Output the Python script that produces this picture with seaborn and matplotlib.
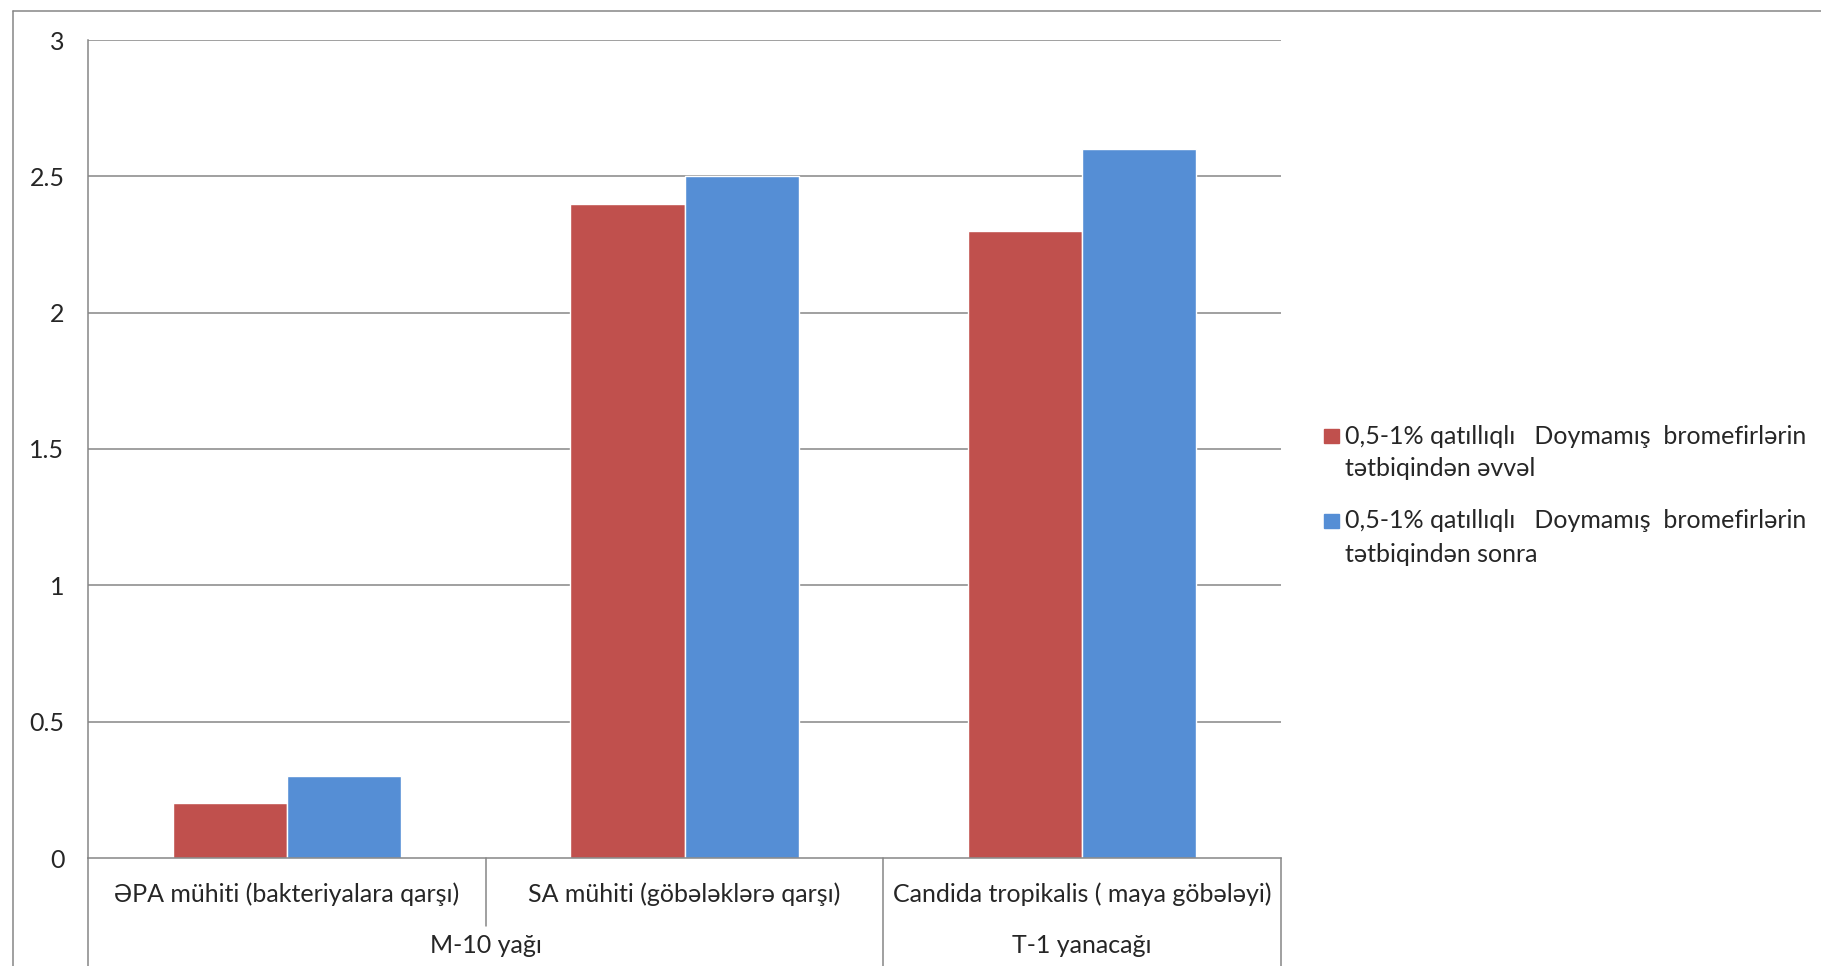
import seaborn as sns
import matplotlib.pyplot as plt
import pandas as pd
from matplotlib.lines import Line2D
from matplotlib.patches import Rectangle

# data
categories = ["ƏPA mühiti (bakteriyalara qarşı)", "SA mühiti (göbələklərə qarşı)",
              "Candida tropikalis ( maya göbələyi)"]
groups = ["M-10 yağı", "T-1 yanacağı"]
series = ["0,5-1% qatıllıqlı   Doymamış  bromefirlərin\ntətbiqindən əvvəl",
          "0,5-1% qatıllıqlı   Doymamış  bromefirlərin\ntətbiqindən sonra"]
before = [0.2, 2.4, 2.3]
after = [0.3, 2.5, 2.6]
colors = ["#C0504D", "#558ED5"]
yticks = [0, 0.5, 1, 1.5, 2, 2.5, 3]
ytick_labels = ["0", "0.5", "1", "1.5", "2", "2.5", "3"]

df = pd.DataFrame({
    "cat": categories * 2,
    "val": before + after,
    "series": [series[0]] * 3 + [series[1]] * 3,
})

sns.set_style("white")
plt.rcParams["font.family"] = ["Lato", "DejaVu Sans"]
grid_col = "#868686"
fs = 18

fig = plt.figure(figsize=(18.21, 9.66), dpi=100)
ax = fig.add_axes([88 / 1821, 108 / 966, 1193 / 1821, 818 / 966])

sns.barplot(data=df, x="cat", y="val", hue="series", order=categories,
            palette=colors, width=0.575, ax=ax, saturation=1, legend=False)

ax.set_xlim(-0.5, 2.5)
ax.set_ylim(0, 3)
ax.set_yticks(yticks)
ax.set_yticklabels(ytick_labels)
ax.set_xticks([])
ax.set_xlabel("")
ax.set_ylabel("")
ax.tick_params(axis="y", length=5, width=1.1, color=grid_col, pad=12, labelsize=fs)
for y in yticks[1:]:
    ax.axhline(y, color=grid_col, lw=1.1, zorder=0)
for s in ["top", "right"]:
    ax.spines[s].set_visible(False)
for s in ["left", "bottom"]:
    ax.spines[s].set_color(grid_col)
    ax.spines[s].set_linewidth(1.1)

# category + group labels under the axis
tr = ax.get_xaxis_transform()
for i, c in enumerate(categories):
    ax.text(i, -0.044, c, transform=tr, ha="center", va="center", fontsize=fs)
ax.text(0.5, -0.107, groups[0], transform=tr, ha="center", va="center", fontsize=fs)
ax.text(2, -0.107, groups[1], transform=tr, ha="center", va="center", fontsize=fs)

bottom = -0.135
for x, y0 in [(-0.5, bottom), (0.5, -0.083), (1.5, bottom), (2.5, bottom)]:
    ax.add_line(Line2D([x, x], [0, y0], transform=tr, color=grid_col, lw=1.1, clip_on=False))

# legend (square aligned with the first text line)
W, H = 1821, 966
for k, (lab, col) in enumerate(zip(series, colors)):
    yc = 436 + k * 85
    fig.add_artist(Rectangle((1324 / W, 1 - (yc + 7) / H), 15 / W, 14 / H,
                             transform=fig.transFigure, color=col))
    for j, line in enumerate(lab.split("\n")):
        fig.text(1345 / W, 1 - (yc + j * 33) / H, line, ha="left", va="center",
                 fontsize=fs)

# outer chart border
fig.add_artist(Line2D([13 / W, 1], [1 - 11 / H, 1 - 11 / H], color=grid_col, lw=1.1))
fig.add_artist(Line2D([13 / W, 13 / W], [0, 1 - 11 / H], color=grid_col, lw=1.1))

fig.savefig("out.png", dpi=100)
